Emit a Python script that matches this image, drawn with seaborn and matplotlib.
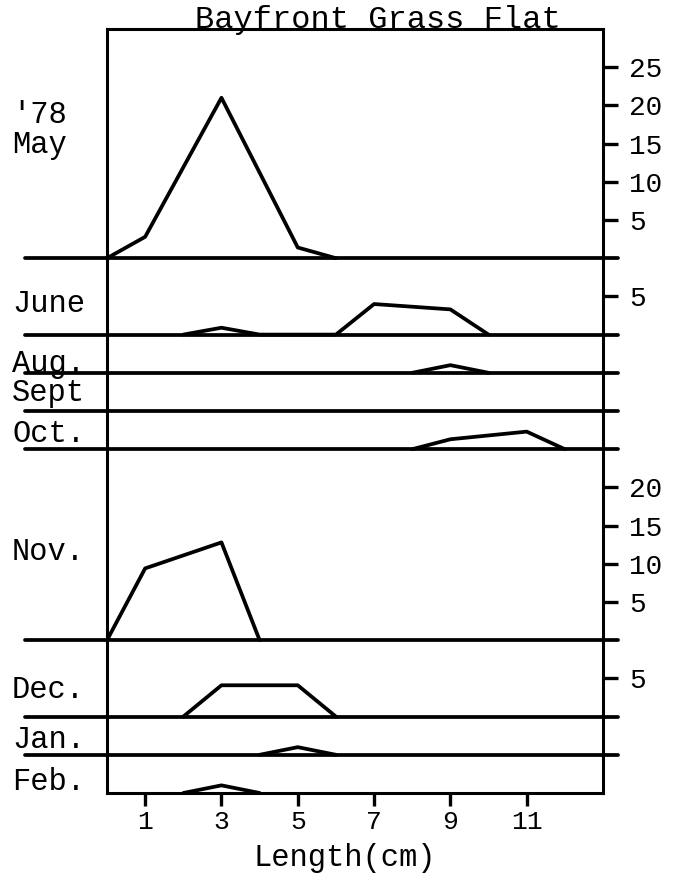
import matplotlib
matplotlib.use("Agg")
import matplotlib.pyplot as plt
import pandas as pd
import seaborn as sns

# Monthly length-frequency polygons, Bayfront grass flat ('78 - '79)
months = ["'78\nMay", "June", "Aug.", "Sept", "Oct.", "Nov.", "Dec.", "Jan.", "Feb."]
panel_max = [30, 10, 5, 5, 5, 25, 10, 5, 5]

may_len = [0, 1, 3, 5, 6]
may_n = [0, 2.8, 21, 1.4, 0]
june_len = [2, 3, 4, 6, 7, 9, 10]
june_n = [0, 0.9, 0, 0, 4.0, 3.3, 0]
aug_len = [8, 9, 10]
aug_n = [0, 1.0, 0]
sept_len = []
sept_n = []
oct_len = [8, 9, 11, 12]
oct_n = [0, 1.3, 2.3, 0]
nov_len = [0, 1, 3, 4]
nov_n = [0, 9.4, 12.8, 0]
dec_len = [2, 3, 5, 6]
dec_n = [0, 4.1, 4.1, 0]
jan_len = [4, 5, 6]
jan_n = [0, 1.0, 0]
feb_len = [2, 3, 4]
feb_n = [0, 1.0, 0]

lengths = [may_len, june_len, aug_len, sept_len, oct_len, nov_len, dec_len, jan_len, feb_len]
counts = [may_n, june_n, aug_n, sept_n, oct_n, nov_n, dec_n, jan_n, feb_n]

right_ticks = [[5, 10, 15, 20, 25], [5], [], [], [], [5, 10, 15, 20], [5], [], []]
x_ticks = [1, 3, 5, 7, 9, 11]

sns.set_style("white")
plt.rcParams["font.family"] = ["Liberation Mono", "DejaVu Sans Mono"]
plt.rcParams["text.color"] = "black"

W, H = 686, 876
fig = plt.figure(figsize=(W / 100, H / 100), dpi=100)
x0, x1, y_top, y_bot = 107, 603, 29, 793
gs = fig.add_gridspec(
    len(months), 1, height_ratios=panel_max, hspace=0,
    left=x0 / W, right=x1 / W, top=1 - y_top / H, bottom=1 - y_bot / H,
)

# baselines run out past both frame edges
ext_left = (25 - x0) / (x1 - x0)
ext_right = (618 - x0) / (x1 - x0)

label_baseline_px = [None, 312, 372, 401, 442, 560, 698, 748, 790]
lw = 2.7
spine_w = 2.2

for i, (name, xs, ys) in enumerate(zip(months, lengths, counts)):
    ax = fig.add_subplot(gs[i])
    ax.set_facecolor("none")
    if xs:
        df = pd.DataFrame({"length": xs, "n": ys})
        sns.lineplot(data=df, x="length", y="n", ax=ax, color="black",
                     linewidth=lw, sort=False, estimator=None)
        for ln in ax.lines:
            ln.set_clip_on(False)
            ln.set_solid_joinstyle("round")
            ln.set_zorder(3)
    ax.set_xlim(0, 13)
    ax.set_ylim(0, panel_max[i])
    ax.set_xlabel("")
    ax.set_ylabel("")

    for side in ["left", "right", "top", "bottom"]:
        ax.spines[side].set_color("black")
        ax.spines[side].set_linewidth(spine_w)
    if i > 0:
        ax.spines["top"].set_visible(False)

    ax.yaxis.tick_right()
    ax.set_yticks(right_ticks[i])
    ax.tick_params(axis="y", which="both", direction="out", length=11, width=2.4,
                   pad=8, labelsize=20, colors="black", left=False, right=True)

    if i < len(months) - 1:
        ax.spines["bottom"].set_visible(False)
        ax.set_xticks([])
        ax.axhline(0, xmin=ext_left, xmax=ext_right, color="black",
                   linewidth=lw, clip_on=False, zorder=1)
    else:
        ax.set_xticks(x_ticks)
        ax.set_xticklabels([str(t) for t in x_ticks])
        ax.tick_params(axis="x", direction="out", length=9, width=2.4, pad=3.5,
                       labelsize=19, colors="black", bottom=True, top=False)

    # month label on the left margin
    if i == 0:
        fig.text(12 / W, 1 - 123 / H, "'78", fontsize=22, ha="left", va="baseline")
        fig.text(12 / W, 1 - 153 / H, "May", fontsize=22, ha="left", va="baseline")
    else:
        fig.text(12 / W, 1 - label_baseline_px[i] / H, name, fontsize=22,
                 ha="left", va="baseline")

fig.text(378 / W, 1 - 28 / H, "Bayfront Grass Flat", fontsize=23,
         ha="center", va="baseline")
fig.text(345 / W, 1 - 866 / H, "Length(cm)", fontsize=22,
         ha="center", va="baseline")

fig.savefig("out.png", dpi=100, facecolor="white")
